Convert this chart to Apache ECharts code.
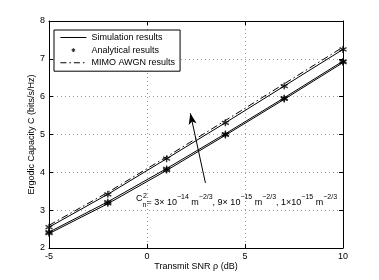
<!DOCTYPE html>
<html><head><meta charset="utf-8">
<script src="https://cdn.jsdelivr.net/npm/echarts@6/dist/echarts.min.js"></script>
<style>html,body{margin:0;padding:0;background:#fff}#c{width:379px;height:280px}</style>
</head><body><div id="c"></div>
<script>
const snr = [-5, -2, 1, 4, 7, 10];
const awgn = [2.60, 3.47, 4.41, 5.37, 6.34, 7.31];
const simWeak = [2.55, 3.42, 4.36, 5.31, 6.28, 7.25];
const simMed = [2.42, 3.22, 4.10, 5.02, 5.97, 6.94];
const simStrong = [2.38, 3.17, 4.05, 4.98, 5.93, 6.90];
const anaWeak = [2.55, 3.42, 4.36, 5.31, 6.28, 7.25];
const anaMed = [2.42, 3.21, 4.09, 5.01, 5.96, 6.93];
const anaStrong = [2.39, 3.18, 4.06, 4.99, 5.94, 6.91];
const xTicks = [-5, 0, 5, 10];
const yTicks = [2, 3, 4, 5, 6, 7, 8];
const arrowTail = [2.98, 3.72];
const arrowTip = [2.21, 5.56];

const FONT = 'Liberation Sans, Arial, sans-serif';
const star = 'path://M0,-10L0,10M-8.66,-5L8.66,5M-8.66,5L8.66,-5';
// legend icons (26x9 box; corner moveTo points fix the bounding box)
const solidIcon = 'path://M0,0M26,9M0,4L26,4L26,5L0,5Z';
const dashDotIcon = 'path://M0,0M26,9M0,4L6,4L6,5L0,5ZM9,4L10.5,4L10.5,5L9,5ZM13.5,4L19.5,4L19.5,5L13.5,5ZM22.5,4L24,4L24,5L22.5,5Z';
const starIcon = 'path://M-37,-13M37,13M0,-5.5L0,5.5M-4.8,-2.75L4.8,2.75M-4.8,2.75L4.8,-2.75';
const pair = a => snr.map((x, i) => [x, a[i]]);

function simLine(d) {
  return { type: 'line', name: 'Simulation results', data: pair(d), symbol: 'none', showSymbol: false,
    lineStyle: { color: '#000', width: 1 }, itemStyle: { color: '#000' }, z: 3, animation: false };
}
function anaPts(d) {
  return { type: 'scatter', name: 'Analytical results', data: pair(d), symbol: star, symbolSize: 7,
    itemStyle: { color: '#000', borderColor: '#000', borderWidth: 1.4 }, z: 4, animation: false };
}

const axisCommon = {
  axisLine: { show: true, onZero: false, lineStyle: { color: '#000', width: 1 } },
  axisTick: { show: true, inside: true, length: 4, lineStyle: { color: '#000' } },
};

const chart = echarts.init(document.getElementById('c'), null, { renderer: 'canvas' });
chart.setOption({
  animation: false,
  textStyle: { fontFamily: FONT },
  grid: { left: 49, right: 36, top: 21, bottom: 32 },
  legend: {
    left: 54, top: 30, orient: 'vertical', padding: [3, 5, 4, 6], itemGap: 3,
    itemWidth: 26, itemHeight: 9, borderColor: '#000', borderWidth: 1, backgroundColor: '#fff',
    textStyle: { fontFamily: FONT, fontSize: 9, color: '#000' },
    data: [
      { name: 'Simulation results', icon: solidIcon, itemStyle: { color: '#000', borderWidth: 0 } },
      { name: 'Analytical results', icon: starIcon, itemStyle: { color: '#000', borderColor: '#000', borderWidth: 1.2 } },
      { name: 'MIMO AWGN results', icon: dashDotIcon, itemStyle: { color: '#000', borderWidth: 0 } }
    ]
  },
  xAxis: [{
    type: 'value', min: -5, max: 10, interval: 5, position: 'bottom',
    name: 'Transmit SNR ρ (dB)', nameLocation: 'middle', nameGap: 14, nameMoveOverlap: false,
    nameTextStyle: { fontFamily: FONT, fontSize: 9, color: '#000' },
    axisLabel: { fontFamily: FONT, fontSize: 9, color: '#000', margin: 4,
      formatter: v => xTicks.includes(v) ? String(v) : '' },
    splitLine: { show: true, lineStyle: { type: [1, 3], color: '#999', width: 1 } },
    ...axisCommon
  }, {
    type: 'value', min: -5, max: 10, interval: 5, position: 'top',
    axisLabel: { show: false }, splitLine: { show: false }, ...axisCommon
  }],
  yAxis: [{
    type: 'value', min: 2, max: 8, interval: 1, position: 'left',
    name: 'Ergodic Capacity C (bits/s/Hz)', nameLocation: 'middle', nameGap: 13, nameMoveOverlap: false,
    nameTextStyle: { fontFamily: FONT, fontSize: 9, color: '#000' },
    axisLabel: { fontFamily: FONT, fontSize: 9, color: '#000', margin: 4,
      formatter: v => yTicks.includes(v) ? String(v) : '' },
    splitLine: { show: true, lineStyle: { type: [1, 3], color: '#999', width: 1 } },
    ...axisCommon
  }, {
    type: 'value', min: 2, max: 8, interval: 1, position: 'right',
    axisLabel: { show: false }, splitLine: { show: false }, ...axisCommon
  }],
  series: [
    simLine(simStrong), simLine(simMed), simLine(simWeak),
    anaPts(anaStrong), anaPts(anaMed), anaPts(anaWeak),
    { type: 'line', name: 'MIMO AWGN results', data: pair(awgn), symbol: 'none', showSymbol: false,
      lineStyle: { color: '#000', width: 1, type: [7, 3, 1.5, 3] }, itemStyle: { color: '#000' }, z: 3,
      markLine: { silent: true, symbol: ['none', 'arrow'], symbolSize: [6, 11],
        lineStyle: { color: '#000', width: 1, type: 'solid' }, label: { show: false },
        data: [[{ coord: arrowTail }, { coord: arrowTip }]] } }
  ],
  graphic: [
    { type: 'text', left: 136, top: 194, z: 10,
      style: {
        text: 'C{sub|n}{t|= 3× 10}{sup|−14}{t| m}{sup|−2/3}{t|, 9× 10}{sup|−15}{t| m}{sup|−2/3}{t|, 1×10}{sup|−15}{t| m}{sup|−2/3}',
        fontFamily: FONT, fontSize: 9, fill: '#000',
        rich: {
          t: { fontFamily: FONT, fontSize: 9, fill: '#000', verticalAlign: 'bottom', lineHeight: 16 },
          sup: { fontFamily: FONT, fontSize: 7, fill: '#000', verticalAlign: 'bottom', padding: [0, 0, 6, 0], lineHeight: 16 },
          sub: { fontFamily: FONT, fontSize: 7, fill: '#000', verticalAlign: 'bottom', padding: [0, 0, -2, 0], lineHeight: 16 }
        }
      } },
    { type: 'text', left: 143, top: 193, z: 10,
      style: { text: '2', fontFamily: FONT, fontSize: 7, fill: '#000' } }
  ]
});
</script></body></html>
